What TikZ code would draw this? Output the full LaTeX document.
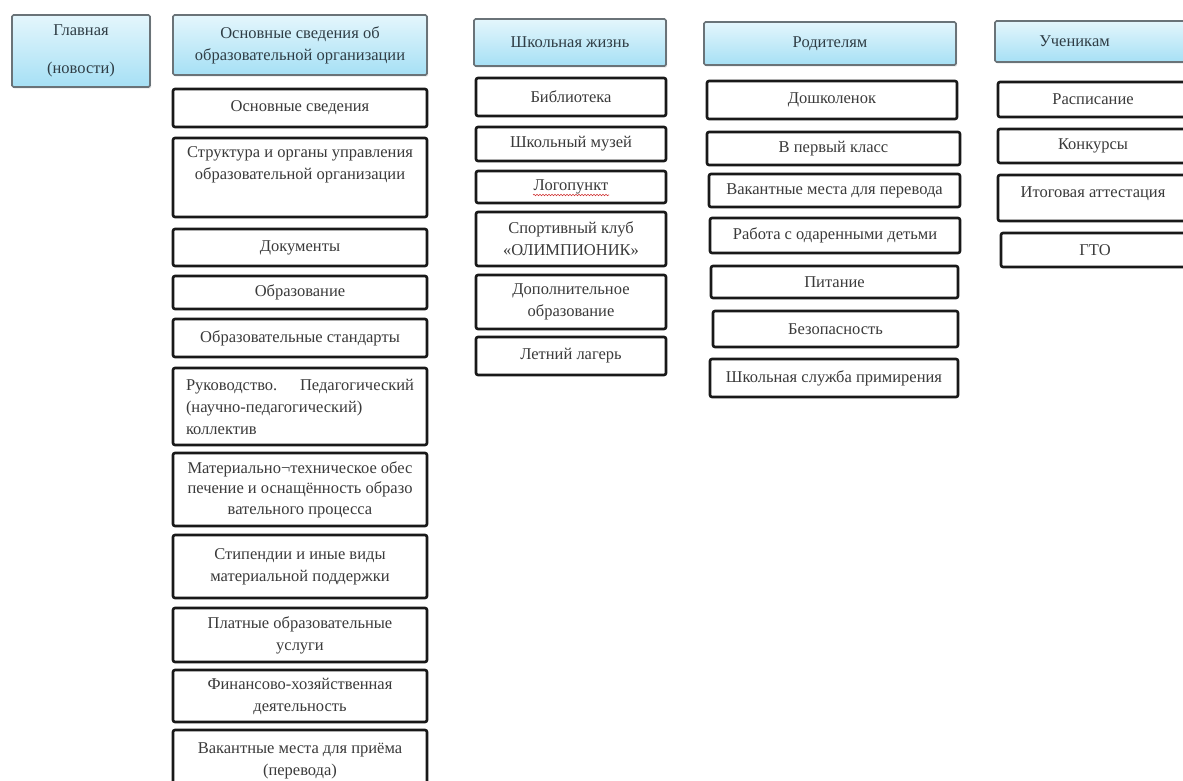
\documentclass[tikz,border=0pt]{standalone}
\usepackage{fontspec}
\setmainfont{Liberation Serif}
\usetikzlibrary{shadows,decorations.pathmorphing}
\definecolor{hdrtop}{HTML}{E4F6FC}
\definecolor{hdrbot}{HTML}{A6E0F5}
\definecolor{hdrline}{HTML}{6A7378}
\definecolor{hdrtext}{HTML}{2F3D45}
\definecolor{itemtext}{HTML}{3A3A3A}
\definecolor{spellred}{HTML}{D03030}
\begin{document}
\begin{tikzpicture}[x=1pt,y=-1pt,
  base/.style={rectangle, inner sep=0pt, align=center, font=\fontsize{16.5}{22}\selectfont},
  wh/.style 2 args={minimum width=#1pt, minimum height=#2pt},
  hdr/.style={base, draw=hdrline, line width=1.6pt, rounded corners=1.5pt,
    top color=hdrtop, bottom color=hdrbot, text=hdrtext,
    drop shadow={shadow xshift=1pt, shadow yshift=-1.5pt, fill=black!30}},
  item/.style={base, draw=black!90, line width=2.6pt, rounded corners=2pt,
    fill=white, text=itemtext},
  wavy/.style={draw=spellred, line width=0.6pt, decorate,
    decoration={snake, amplitude=0.7pt, segment length=3pt}},
]
\useasboundingbox (0,0) rectangle (1183,781);
\fill[white] (0,0) rectangle (1183,781);

% column 1
\node[hdr, wh={138}{72}] (home) at (81,51) {Главная\\[16pt](новости)};

% column 2
\node[hdr, wh={254}{60}] (svedh) at (300,45) {Основные сведения об\\образовательной организации};
\node[item, wh={254}{38}] (s1) at (300,108) {Основные сведения};
\node[item, wh={254}{79}] (s2) at (300,177.5) {Структура и органы управления\\образовательной организации\\\strut};
\node[item, wh={254}{37}] (s3) at (300,247.5) {Документы};
\node[item, wh={254}{33}] (s4) at (300,292.5) {Образование};
\node[item, wh={254}{38}] (s5) at (300,338) {Образовательные стандарты};
\node[item, wh={254}{77}, align=left, text width=228pt] (s6) at (300,406.5) {Руководство.\hfill Педагогический\\(научно-педагогический)\\коллектив};
\node[item, wh={254}{73}, font=\fontsize{16.5}{20.5}\selectfont] (s7) at (300,489.5) {Материально¬техническое обес\\печение и оснащённость образо\\вательного процесса};
\node[item, wh={254}{63}] (s8) at (300,566.5) {Стипендии и иные виды\\материальной поддержки};
\node[item, wh={254}{54}] (s9) at (300,635) {Платные образовательные\\услуги};
\node[item, wh={254}{52}] (s10) at (300,696) {Финансово-хозяйственная\\деятельность};
\node[item, wh={254}{62}] (s11) at (300,761) {Вакантные места для приёма\\(перевода)};

% column 3
\node[hdr, wh={192}{47}] (lifeh) at (570,42.5) {Школьная жизнь};
\node[item, wh={190}{38}] (l1) at (571,97) {Библиотека};
\node[item, wh={190}{34}] (l2) at (571,144) {Школьный музей};
\node[item, wh={190}{32}] (l3) at (571,187) {Логопункт};
\node[item, wh={190}{54}] (l4) at (571,239) {Спортивный клуб\\«ОЛИМПИОНИК»};
\node[item, wh={190}{54}] (l5) at (571,302) {Дополнительное\\образование};
\node[item, wh={190}{38}] (l6) at (571,356) {Летний лагерь};
\draw[wavy] ([xshift=-38pt,yshift=-8pt]l3.center) -- ([xshift=38pt,yshift=-8pt]l3.center);

% column 4
\node[hdr, wh={252}{43}] (parh) at (830,43.5) {Родителям};
\node[item, wh={250}{38}] (p1) at (832,100) {Дошколенок};
\node[item, wh={253}{33}] (p2) at (833.5,148.5) {В первый класс};
\node[item, wh={251}{33}] (p3) at (834.5,190.5) {Вакантные места для перевода};
\node[item, wh={250}{35}] (p4) at (835,235.5) {Работа с одаренными детьми};
\node[item, wh={247}{32}] (p5) at (834.5,282) {Питание};
\node[item, wh={245}{36}] (p6) at (835.5,329) {Безопасность};
\node[item, wh={248}{38}] (p7) at (834,378) {Школьная служба примирения};

% column 5
\node[hdr, wh={195}{41}] (stuh) at (1092.5,41.5) {\hspace*{-36pt}Ученикам};
\node[item, wh={190}{35}] (u1) at (1093,99.5) {Расписание};
\node[item, wh={190}{34}] (u2) at (1093,146) {Конкурсы};
\node[item, wh={190}{46}] (u3) at (1093,198) {Итоговая аттестация\\[-10pt]\mbox{}};
\node[item, wh={188}{34}] (u4) at (1095,250) {ГТО};
\end{tikzpicture}
\end{document}
